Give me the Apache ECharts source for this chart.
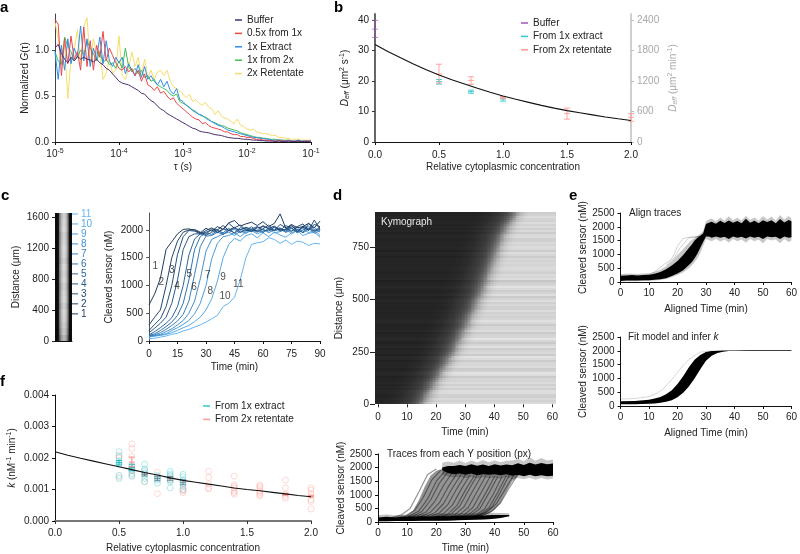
<!DOCTYPE html>
<html><head><meta charset="utf-8">
<style>html,body{margin:0;padding:0;background:#fff}#c{width:800px;height:554px}</style>
<script src="https://cdn.jsdelivr.net/npm/echarts@6/dist/echarts.min.js"></script>
</head><body><div id="c"></div>
<script>
// ---------- panel a ----------
const tauExp=[-5,-4.95,-4.9,-4.85,-4.8,-4.75,-4.7,-4.65,-4.6,-4.55,-4.5,-4.45,-4.4,-4.35,-4.3,-4.25,-4.2,-4.15,-4.1,-4.05,-4,-3.95,-3.9,-3.85,-3.8,-3.75,-3.7,-3.65,-3.6,-3.55,-3.5,-3.45,-3.4,-3.35,-3.3,-3.25,-3.2,-3.15,-3.1,-3.05,-3,-2.95,-2.9,-2.85,-2.8,-2.75,-2.7,-2.65,-2.6,-2.55,-2.5,-2.45,-2.4,-2.35,-2.3,-2.25,-2.2,-2.15,-2.1,-2.05,-2,-1.95,-1.9,-1.85,-1.8,-1.75,-1.7,-1.65,-1.6,-1.55,-1.5,-1.45,-1.4,-1.35,-1.3,-1.25,-1.2,-1.15,-1.1,-1.05,-1];
const gBuffer=[1.02,1.06,.96,.90,.86,.92,.88,.93,.90,.92,.90,.89,.87,.90,.86,.84,.80,.78,.74,.70,.66,.64,.63,.62,.60,.58,.56,.53,.52,.48,.45,.43,.39,.36,.34,.31,.29,.27,.25,.23,.21,.19,.17,.15,.14,.12,.11,.105,.10,.09,.08,.075,.07,.06,.05,.045,.04,.04,.035,.03,.03,.025,.02,.02,.015,.015,.01,.01,.01,.005,.01,.005,.005,.01,.005,.005,.01,.005,.005,.005,0];
const gHalf=[1.33,1.28,.72,1.12,.85,1.15,.90,.98,.78,1.25,.82,1.10,.78,1.05,.92,1.20,.88,1.02,.94,.86,.80,.78,.82,.76,.80,.72,.78,.66,.74,.62,.60,.56,.60,.53,.55,.50,.46,.48,.42,.39,.36,.33,.30,.27,.25,.24,.20,.21,.18,.16,.15,.14,.13,.11,.11,.09,.08,.08,.06,.06,.05,.05,.04,.03,.03,.02,.02,.02,.01,.01,.02,.01,.01,.01,.01,.005,.01,.005,.01,.01,.01];
const gExtract=[.98,.68,1.05,.78,1.12,.85,1.02,.92,1.26,.88,1.12,.82,1.02,.90,1.14,.85,1.10,.88,.82,.92,.86,.92,.74,.85,.78,.72,.84,.70,.82,.68,.72,.66,.62,.68,.60,.66,.56,.52,.58,.46,.44,.40,.38,.34,.32,.30,.29,.26,.24,.22,.20,.18,.17,.15,.13,.12,.11,.10,.09,.08,.07,.06,.05,.05,.04,.04,.03,.03,.02,.02,.02,.02,.01,.02,.01,.01,.02,.01,.01,.01,.01];
const gFrom2x=[.98,.88,.84,1.14,1.04,.98,.88,.92,1.0,.95,1.10,1.02,.96,.88,.98,.86,.90,.84,.86,.80,.88,.80,1.02,.82,.76,.80,.74,.78,.70,.72,.66,.68,.62,.60,.58,.56,.52,.50,.52,.44,.42,.40,.37,.35,.33,.30,.28,.27,.25,.22,.21,.19,.18,.17,.15,.14,.13,.12,.10,.09,.08,.07,.06,.05,.05,.04,.04,.03,.03,.03,.02,.02,.02,.02,.01,.01,.01,.01,.01,.01,.01];
const gRetentate=[1.3,1.12,.92,1.05,.47,.90,1.0,1.22,.85,1.25,1.35,.85,1.12,.95,1.0,.68,.75,.90,.75,.78,1.15,.72,.68,.80,.98,.82,.92,.72,.90,.70,.78,.68,.76,.78,.72,.78,.66,.60,.58,.55,.52,.48,.52,.44,.46,.42,.40,.43,.38,.36,.30,.34,.28,.26,.25,.22,.20,.25,.18,.17,.14,.13,.14,.11,.10,.09,.09,.08,.07,.07,.05,.05,.04,.04,.03,.03,.03,.02,.02,.02,.02];
const aNames=['Buffer','0.5x from 1x','1x Extract','1x from 2x','2x Retentate'];
const aColors=['#4a2f6f','#e8474c','#2f8fe6','#43bd55','#f6dc6e'];
// ---------- panel b ----------
const bFitX=[0,.1,.2,.3,.4,.5,.6,.7,.8,.9,1,1.1,1.2,1.3,1.4,1.5,1.6,1.7,1.8,1.9,2];
const bFitY=[32,29.7,27.6,25.6,23.7,22.0,20.4,19.0,17.6,16.3,15.1,14.0,13.0,12.0,11.1,10.3,9.6,8.9,8.2,7.6,7.05];
const bBuffer=[[0,34.3,37,39.9]];
const bExtract=[[.5,19,19.8,20.5],[.75,16,16.5,17],[1,13.4,14.1,14.8]];
const bRetentate=[[.5,19.3,22.3,25.5],[.75,18.9,20.2,21.4],[1,14.2,14.5,14.9],[1.5,7.5,9.3,11.1],[2,6.8,8.1,9.3]];
// ---------- panel c ----------
const cTime=[0,3,6,9,12,15,18,21,24,27,30,33,36,39,42,45,48,51,54,57,60,63,66,69,72,75,78,81,84,87,90];
const cTraces=[
[650,850,1130,1650,1790,1930,2010,2020,1990,1950,2030,1980,2060,2010,2130,2170,2070,2110,2140,2080,2150,2060,2120,2290,2030,2100,2040,2060,2120,2040,2160],
[290,430,560,1000,1500,1800,1960,2000,2010,1960,1920,2020,2000,2080,1990,2040,2090,2000,1980,2040,2060,2030,2070,2000,2010,2090,1970,2050,2000,2100,2060],
[190,300,400,620,1000,1560,1880,1990,1980,1930,1990,2040,1960,2010,2120,2030,2000,2050,2010,1980,2080,2020,1990,2100,2040,1970,2060,2110,1990,2180,2010],
[150,230,320,430,680,1100,1650,1880,1930,1930,1960,2000,1950,2020,1990,1950,2040,2020,1970,2060,2000,1980,2050,1990,2080,2030,1960,2070,2020,1980,2050],
[110,170,240,320,420,620,1000,1550,1840,1930,1900,1960,2010,1920,2000,2050,1960,1990,2060,1970,2020,2090,1990,2030,1980,2070,2010,1950,2120,2000,2000],
[100,130,190,260,340,460,680,1100,1650,1880,1950,1920,1990,1950,2030,1940,2010,1980,2020,2060,1960,2010,2050,1980,2010,2040,1950,2000,2070,1970,2020],
[95,110,150,210,280,360,480,720,1200,1700,1890,1900,1960,1920,1990,2010,1950,2040,1980,2000,1950,2040,1990,2010,1960,2030,2060,1950,2010,2050,1960],
[90,100,120,170,220,290,370,500,720,1120,1620,1830,1880,1930,1960,1900,1980,1940,2000,1960,2020,1950,2010,2040,1960,1990,2010,1960,2040,1940,1990],
[70,90,110,130,190,240,300,370,490,680,1000,1480,1760,1880,1900,1950,1880,1960,1990,1930,1980,2010,1950,1970,2020,1930,1990,2030,1950,2000,1900],
[80,90,100,120,150,190,240,280,350,430,560,760,1080,1500,1740,1850,1800,1900,1930,1860,1950,1880,1960,1910,1870,1950,1990,1900,1940,1960,1870],
[40,50,70,90,120,140,180,210,250,290,340,400,460,620,680,790,1100,1500,1740,1770,1790,1860,1830,1760,1820,1740,1800,1780,1720,1760,1750]];
const cColors=['#1f3b5c','#23456b','#274f7a','#2a5a8a','#2e6699','#3272a9','#3a80bb','#4390cc','#4c9dd9','#57a9e6','#66b6f2'];
const cLabelPos=[[3.3,1350],[6.5,1063],[12,1280],[14.7,990],[21.2,1200],[23.7,960],[30.9,1180],[32.3,895],[39,1150],[40,800],[47,1030]];
const stripProfile=[12,10,12,25,120,150,180,200,210,210,200,180,140,90,15,10,12];
const stripRowShift=[-30,-14,-6,0,4,-4,6,2,-4,5,0,6,-3,4,8,2,-2,6,3,-2];
const stripMarkers=[352,482,612,741,871,1000,1130,1260,1389,1519,1648];
// ---------- panel d ----------
const kymoFront=[14.5,15.5,16,17,18,18.5,19.5,20.5,21,22,23,23.5,24.5,25.5,26,26.5,27.5,28,28.5,29.5,30,30.5,31,32,32.5,33,33.5,34.5,35,35.5,36,36.5,37,37.5,38,38.5,39,39.5,40,40.5,41,41.5,42,43,43.5,44.5,45.5,46.5];
const kymoProfile=[38,38,40,42,44,48,52,56,62,70,82,100,125,155,180,195,205,210,212];
const kymoStreak=[2,-3,4,-1,5,1,-4,6,-1,3,-5,7,1,-2,4,-3,6,-1,2,-4,3,5,-3,1,-2,6,-4,2,0,4,-6,3,1,-2,7,-1,-4,3,1,5,-3,2,-5,4,-1,3,-2,1];
const kymoFine=[3,-5,8,-2,-7,4,10,-4,1,-9,6,-1,5,-6,2,9,-3,-8,4,0,7,-5,-1,6,-10,3];
const traceT0=[2,3.5,5,6,7.5,9,10.5,12,13.5,15,16,17.5,19,20.5,22,23,24.5,26,27,28.5,30];
const fanTraces=[
[130,170,260,500,1100,1750,1950],[130,180,240,420,900,1550,1900],[120,170,240,400,850,1500,1880],[120,160,220,380,800,1420,1850],
[110,170,230,370,760,1350,1820],[110,150,220,360,700,1280,1780],[100,140,210,340,680,1250,1750],[100,140,200,330,650,1220,1740],
[100,130,190,310,620,1200,1720],[90,130,180,300,600,1180,1700],[90,120,180,290,580,1160,1720],[90,120,170,280,560,1150,1700],
[80,110,170,270,540,1120,1700],[80,110,160,260,530,1100,1680],[70,100,160,270,520,1080,1680],[70,100,160,260,500,1060,1660],
[70,110,170,260,480,1020,1660],[80,120,180,290,520,1080,1700],[90,130,190,300,540,1100,1720],[100,160,240,380,660,1180,1720],[100,170,250,400,700,1250,1750]];
const fanBandT=[10,12,14,16,18,20,22,25,28,30,33,36,38,40,42,44,46,48,50];
const fanBandLo=[60,70,80,80,90,100,100,110,110,110,170,230,300,450,700,1100,1500,1700,1800];
const fanBandHi=[250,420,800,1300,1700,1880,1950,1980,1980,1980,1980,1980,1980,1980,1980,1980,1980,1980,1980];
const dLowT=[0,3,6,9,12,15,18,21,24,27,30,33,36,39,42,45];
const dLowLo=[30,30,35,40,40,45,45,50,55,60,70,80,90,110,150,210];
const dLowHi=[170,190,170,200,190,210,200,220,210,230,230,240,240,260,260,260];
const dLowHaloHi=[250,280,240,270,280,290,280,310,300,330,320,330,340,340,330,320];
const dTopT=[22,24,26,28,30,32,34,36,38,40,42,44,46,48,50,52,54,56,58,60];
const dTopLo=[1900,1800,1760,1780,1740,1780,1720,1760,1740,1760,1720,1760,1700,1740,1680,1740,1680,1720,1680,1700];
const dTopHi=[2000,2060,2060,2100,2060,2120,2070,2110,2060,2120,2080,2110,2090,2160,2100,2180,2110,2170,2120,2150];
const dTopHaloLo=[1750,1680,1640,1660,1610,1660,1600,1650,1620,1640,1600,1650,1580,1620,1570,1630,1550,1620,1560,1600];
const dTopHaloHi=[2180,2220,2180,2260,2170,2260,2190,2280,2200,2270,2200,2250,2260,2320,2230,2380,2250,2350,2260,2300];
// ---------- panel e ----------
const e1T=[0,2,4,6,8,10,12,14,16,18,20,22,24,25,26,27,28,29,30,31,32,33.5,35,36.5,38,39.5,41,42.5,44,45.5,47,48.5,50,51.5,53,54.5,56,57.5,59,60];
const e1Lo=[40,50,55,50,60,60,80,100,140,220,310,430,620,720,860,1020,1240,1450,1650,1650,1600,1650,1600,1640,1560,1650,1600,1640,1580,1650,1600,1640,1560,1650,1620,1640,1560,1650,1600,1620];
const e1Hi=[230,240,250,240,250,260,300,360,460,600,760,980,1230,1350,1500,1600,1680,1760,2100,2150,2180,2110,2220,2140,2230,2150,2210,2130,2290,2150,2220,2130,2240,2170,2240,2130,2280,2160,2250,2200];
const e1HaloLo=[20,30,30,30,35,40,55,75,110,170,250,340,500,600,720,860,1050,1300,1560,1520,1480,1560,1470,1540,1430,1560,1480,1540,1420,1560,1480,1540,1400,1560,1500,1540,1400,1560,1450,1500];
const e1HaloHi=[290,300,300,290,310,320,370,440,570,760,980,1200,1420,1520,1600,1680,1750,1850,2200,2260,2300,2200,2340,2220,2380,2240,2330,2230,2400,2250,2340,2220,2390,2260,2370,2220,2430,2260,2390,2300];
const e1GrayA=[[11,300],[13,450],[15,620],[17,750],[18,850],[19,1050],[20,1300],[22,1580],[24,1620],[26,1640],[28,1650],[30,1700]];
const e1GrayB=[[16,600],[19,900],[21,1250],[24,1600],[27,1640],[29,1700]];
const e2T=[0,5,10,12,14,16,18,20,22,24,26,28,30,32,34,36,38,40,45,50,60];
const e2Lo=[60,65,80,95,115,150,210,320,480,710,1000,1330,1640,1820,1920,1970,1990,2000,2000,2000,2000];
const e2Hi=[170,180,230,270,330,430,570,800,1080,1400,1680,1850,1960,1990,2005,2010,2015,2020,2025,2025,2025];
const e2Gray=[[0,250],[5,270],[10,340],[13,470],[15,620],[18,960],[20,1220],[22,1470],[24,1680],[26,1830],[28,1950],[32,2000]];
// ---------- panel f ----------
const fFitX=[0,.1,.2,.3,.4,.5,.6,.7,.8,.9,1,1.1,1.2,1.3,1.4,1.5,1.6,1.7,1.8,1.9,2];
const fFitY=[.0022,.00209,.00199,.0019,.00181,.00172,.00163,.00154,.00146,.00137,.00129,.00123,.00117,.00111,.00105,.00100,.00096,.00091,.00086,.00081,.00077];
const fExtract=[[.5,.00135],[.5,.00145],[.5,.0018],[.5,.00185],[.5,.0019],[.5,.00205],[.5,.0022],[.6,.00142],[.6,.0015],[.6,.0016],[.6,.00165],[.6,.0017],[.6,.00175],[.7,.00125],[.7,.00135],[.7,.00145],[.7,.0015],[.7,.0016],[.7,.00165],[.7,.0018],[.8,.0012],[.8,.0013],[.8,.00135],[.8,.0014],[.8,.00145],[.9,.00105],[.9,.00125],[.9,.0013],[.9,.00135],[.9,.00145],[.9,.0015],[.9,.00158],[1,.001],[1,.0011],[1,.0012],[1,.00125],[1,.0013],[1,.0014],[1,.00148]];
const fRetentate=[[.5,.0014],[.5,.002],[.5,.0021],[.6,.00145],[.6,.0016],[.6,.00205],[.6,.0023],[.6,.00245],[.7,.00125],[.7,.00155],[.8,.00087],[.8,.0014],[.8,.00155],[.9,.0013],[.9,.0014],[1,.0009],[1,.00095],[1,.001],[1,.00115],[1.2,.00102],[1.2,.00105],[1.2,.00118],[1.2,.00138],[1.2,.00158],[1.4,.00085],[1.4,.0009],[1.4,.00095],[1.4,.00105],[1.4,.0011],[1.4,.00115],[1.4,.00142],[1.6,.0008],[1.6,.00085],[1.6,.0009],[1.6,.00095],[1.6,.00105],[1.6,.0011],[1.6,.00115],[1.8,.00072],[1.8,.00078],[1.8,.00085],[1.8,.00105],[1.8,.0013],[2,.00038],[2,.00062],[2,.00068],[2,.00085],[2,.00098],[2,.00105]];
const fErrExtract=[[.5,.00178,.00185,.00192],[.6,.0016,.0017,.0018]];
const fErrRetentate=[[.6,.00172,.00187,.00203],[1.8,.00082,.00085,.00088],[2,.00076,.00079,.00082]];
const fErrGray=[[.7,.00143,.00148,.00153],[.8,.00128,.00135,.00142],[.9,.00129,.00135,.00141],[1,.00115,.00123,.00131]];

const FONT='Liberation Sans', TXT='#222';
const CY='#35c9cf', SA='#ff9c94', PU='#a455b5';
const chart=echarts.init(document.getElementById('c'),null,{renderer:'canvas'});
const grid=[],xAxis=[],yAxis=[],series=[];
const rich={i:{fontStyle:'italic',fontSize:10,fontFamily:FONT},n:{fontSize:10,fontFamily:FONT},
  sup:{fontSize:7,verticalAlign:'top',lineHeight:12,fontFamily:FONT},sub:{fontSize:7,verticalAlign:'bottom',lineHeight:12,fontStyle:'italic',fontFamily:FONT}};
function addGrid(l,t,w,h){grid.push({left:l,top:t,width:w,height:h,containLabel:false});return grid.length-1;}
function ax(g,o){
  const c=o.color||TXT;
  const a={gridIndex:g,type:o.type||'value',min:o.min,max:o.max,position:o.position,
    name:o.name||'',nameLocation:'middle',nameGap:o.nameGap,nameRotate:o.nameRotate,
    nameTextStyle:{fontFamily:FONT,fontSize:10,color:o.color||TXT,rich:JSON.parse(JSON.stringify(rich))},
    axisLine:{show:o.line!==false,onZero:false,lineStyle:{color:o.lineColor||c,width:o.lineWidth||1}},
    axisTick:{show:o.tick!==false,length:o.tickLen||3,lineStyle:{color:o.tickColor||o.lineColor||c,width:1}},
    axisLabel:{show:o.label!==false,fontFamily:FONT,fontSize:10,color:o.labelColor||c,margin:o.margin||6,formatter:o.fmt||(v=>String(v)),hideOverlap:false,showMinLabel:true,showMaxLabel:true},
    splitLine:{show:false},minorTick:{show:false},boundaryGap:false,scale:false};
  if(o.ticks){a.axisTick.customValues=o.ticks;a.axisLabel.customValues=o.ticks;}
  return a;
}
function addAxes(g,xo,yo,y2){xAxis.push(ax(g,xo));const xi=xAxis.length-1;yAxis.push(ax(g,yo));const yi=yAxis.length-1;let y2i;
  if(y2){yAxis.push(ax(g,y2));y2i=yAxis.length-1;}return {x:xi,y:yi,y2:y2i};}
function line(a,name,data,color,width,opacity,z){series.push({type:'line',name,xAxisIndex:a.x,yAxisIndex:a.y,data,showSymbol:false,symbol:'none',silent:true,animation:false,
  lineStyle:{color,width:width||1,opacity:opacity==null?1:opacity},itemStyle:{color},z:z||2});}
function zip(x,y){return x.map((v,i)=>[v,y[i]]);}
function band(a,t,lo,hi,color,opacity,z){
  series.push({type:'custom',name:'band',xAxisIndex:a.x,yAxisIndex:a.y,data:t.map((v,i)=>[v,lo[i],hi[i]]),silent:true,animation:false,clip:true,z:z||2,encode:{x:0,y:[1,2]},
   renderItem(p,api){if(p.dataIndex!==0)return null;
     const pts=t.map((v,i)=>api.coord([v,hi[i]])).concat(t.map((v,i)=>api.coord([v,lo[i]])).reverse());
     return {type:'polygon',shape:{points:pts},style:{fill:color,opacity}};}});
}
function errBars(a,name,data,color,op,cap){series.push({type:'custom',name,xAxisIndex:a.x,yAxisIndex:a.y,data,silent:true,animation:false,clip:false,itemStyle:{color},z:3,encode:{x:0,y:[1,2,3]},
  renderItem(p,api){const x=api.value(0),cv=[api.value(1),api.value(2),api.value(3)].map(v=>api.coord([x,v]));const c=cap||3,s={stroke:color,lineWidth:1,opacity:op||.75};
    const e=[{type:'line',shape:{x1:cv[0][0],y1:cv[0][1],x2:cv[0][0],y2:cv[2][1]},style:s}];
    cv.forEach(q=>e.push({type:'line',shape:{x1:q[0]-c,y1:q[1],x2:q[0]+c,y2:q[1]},style:s}));
    return {type:'group',children:e};}});}
const n1=v=>v.toFixed(1);

// a
{const g=addGrid(55,14,256,128);
 const A=addAxes(g,{type:'log',min:1e-5,max:1e-1,name:'τ (s)',nameGap:20,margin:6,
    fmt:v=>'{b|10}{s|'+Math.round(Math.log10(v))+'}',lineColor:'#111'},
   {min:0,max:1.39,ticks:[0,.5,1],fmt:n1,name:'{n|Normalized }{i|G}{n|(τ)}',nameGap:25,lineColor:'#444'});
 xAxis[A.x].logBase=10;
 xAxis[A.x].axisLabel.rich={b:{fontSize:10,fontFamily:FONT,color:TXT},s:{fontSize:7,verticalAlign:'top',lineHeight:12,fontFamily:FONT,color:TXT}};
 const arrs=[gBuffer,gHalf,gExtract,gFrom2x,gRetentate];
 [4,3,2,1,0].forEach(i=>line(A,aNames[i],tauExp.map((e,j)=>[Math.pow(10,e),arrs[i][j]]),aColors[i],1,1,i==0?6:2+(4-i)));
}
// b
{const g=addGrid(375,14,256,128);
 const A=addAxes(g,{min:0,max:2,ticks:[0,.5,1,1.5,2],fmt:n1,name:'Relative cytoplasmic concentration',nameGap:20,lineColor:'#111',margin:8},
   {min:0,max:41.97,ticks:[0,10,20,30,40],name:'{i|D}{sub|eff}{n| (μm}{sup|2}{n| s}{sup|-1}{n|)}',nameGap:24,lineColor:'#666',lineWidth:2,tickColor:'#333',labelColor:TXT},
   {min:0,max:2518,ticks:[0,600,1200,1800,2400],position:'right',name:'{i|D}{sub|eff}{n| (μm}{sup|2}{n| min}{sup|-1}{n|)}',nameGap:36,nameRotate:90,lineColor:'#cfcfcf',lineWidth:2,color:'#a8a8a8',tickColor:'#bbb'});
 line(A,'fit',zip(bFitX,bFitY),'#111',1.1,1,5);
 errBars(A,'Buffer',bBuffer,PU,.7);errBars(A,'From 1x extract',bExtract,CY,.9);errBars(A,'From 2x retentate',bRetentate,SA,.9);
}
// c strip
{const g=addGrid(55,213,17,128);
 const A=addAxes(g,{min:0,max:17,label:false,tick:false,lineColor:'#111'},
   {min:0,max:1661,ticks:[0,400,800,1200,1600],name:'Distance (μm)',nameGap:34,line:false,tickLen:3},
   {min:0,max:1661,position:'right',ticks:stripMarkers,tick:false,line:false,margin:9,fmt:v=>String(stripMarkers.indexOf(v)+1)});
 yAxis[A.y2].axisLabel.color=v=>cColors[stripMarkers.indexOf(Number(v))]||TXT;
 const cells=[];stripProfile.forEach((v,i)=>stripRowShift.forEach((s,r)=>cells.push([i,r*83.05,Math.max(5,Math.min(235,v+(v>60?s:0)))])));
 series.push({type:'custom',name:'strip',xAxisIndex:A.x,yAxisIndex:A.y,data:cells,silent:true,animation:false,encode:{x:0,y:1},
  renderItem(p,api){const a=api.coord([api.value(0),api.value(1)]),b=api.coord([api.value(0)+1,api.value(1)+83.05]);const v=Math.round(api.value(2));
   return {type:'rect',shape:{x:Math.round(a[0]),y:Math.round(b[1]),width:Math.round(b[0])-Math.round(a[0]),height:Math.round(a[1])-Math.round(b[1])},style:{fill:'rgb('+v+','+v+','+v+')'}};}});
 series.push({type:'custom',name:'markers',xAxisIndex:A.x,yAxisIndex:A.y,data:stripMarkers.map((m,i)=>[17,m,i]),silent:true,animation:false,clip:false,encode:{x:0,y:1},z:4,
  renderItem(p,api){const a=api.coord([api.value(0),api.value(1)]);return {type:'line',shape:{x1:a[0],y1:a[1],x2:a[0]+6,y2:a[1]},style:{stroke:cColors[api.value(2)],lineWidth:1}};}});
}
// c traces
{const g=addGrid(149,213,171,128);
 const A=addAxes(g,{min:0,max:90,ticks:[0,15,30,45,60,75,90],name:'Time (min)',nameGap:21,lineColor:'#111',margin:8},
   {min:0,max:2306,ticks:[0,500,1000,1500,2000],name:'Cleaved sensor (nM)',nameGap:35,lineColor:'#555'});
 [10,9,8,7,6,5,4,3,2,1,0].forEach(i=>line(A,'trace'+(i+1),zip(cTime,cTraces[i]),cColors[i],1,1,2+(10-i)/10));
 series.push({type:'scatter',xAxisIndex:A.x,yAxisIndex:A.y,symbolSize:0,silent:true,animation:false,z:6,data:cLabelPos.map((p,i)=>({value:p,label:{show:true,position:'inside',formatter:String(i+1),fontFamily:FONT,fontSize:10,color:TXT}}))});
}
// d kymograph
{const g=addGrid(375,212,180,192.3);
 const A=addAxes(g,{min:-1,max:60.9,ticks:[0,10,20,30,40,50,60],line:false,name:'Time (min)',nameGap:23,tickLen:3,margin:8},
   {min:0,max:917,ticks:[0,250,500,750],line:false,name:'Distance (μm)',nameGap:31,tickLen:5});
 const cells=[];
 for(let r=0;r<96;r++){
  const i0=Math.floor(r/2),f=(r%2)?(kymoFront[i0]+kymoFront[Math.min(47,i0+1)])/2:kymoFront[i0];
  for(let c=0;c<124;c++){const t=c/2-1,pos=t-f+12,k=Math.floor(pos),w=pos-k;
   const pick=j=>j<0?36:(j>=kymoProfile.length?212:kymoProfile[j]);
   const base=pick(k)*(1-w)+pick(k+1)*w;
   const s=(kymoStreak[i0]+kymoFine[r%26])*(base>150?1:.3);
   cells.push([t,r*9.55,Math.max(15,Math.min(240,base+s))]);}
 }
 series.push({type:'custom',name:'Kymograph',xAxisIndex:A.x,yAxisIndex:A.y,data:cells,silent:true,animation:false,progressive:0,encode:{x:0,y:1},
  renderItem(p,api){const a=api.coord([api.value(0),api.value(1)]),b=api.coord([api.value(0)+.5,api.value(1)+9.55]);const v=Math.round(api.value(2));
   return {type:'rect',shape:{x:Math.round(a[0]),y:Math.round(b[1]),width:Math.round(b[0])-Math.round(a[0])+1,height:Math.round(a[1])-Math.round(b[1])},style:{fill:'rgb('+v+','+v+','+v+')'}};}});
}
function sensorY(){return {min:0,max:2500,ticks:[0,500,1000,1500,2000,2500],name:'Cleaved sensor (nM)',nameGap:32,lineColor:'#111',tickLen:3};}
function sensorX(name,gap){return {min:0,max:60,ticks:[0,10,20,30,40,50,60],name,nameGap:gap,lineColor:'#111'};}
// d lower
{const g=addGrid(378,454,175,69);
 const A=addAxes(g,sensorX('Time (min)',21),sensorY());
 band(A,fanBandT,fanBandLo,fanBandHi,'#000',.42,2);
 fanTraces.forEach((tr,i)=>{line(A,'fan'+i,tr.map((v,j)=>[traceT0[i]+j*3,v]),'#000',1.2,.42,3);});
 band(A,dTopT,dTopHaloLo,dTopHaloHi,'#000',.22,4);
 band(A,dLowT,dLowLo,dLowHaloHi,'#000',.25,4);
 band(A,dLowT,dLowLo,dLowHi,'#000',1,5);
 band(A,dTopT,dTopLo,dTopHi,'#000',1,5);
}
// e top
{const g=addGrid(620.5,213,174.5,69);
 const A=addAxes(g,sensorX('Aligned Time (min)',22),sensorY());
 band(A,e1T,e1HaloLo,e1HaloHi,'#000',.22,3);
 band(A,e1T,e1Lo,e1Hi,'#000',1,4);
 line(A,'ga',e1GrayA,'#000',1,.18,2);line(A,'gb',e1GrayB,'#000',1,.18,2);
}
// e bottom
{const g=addGrid(620.5,337,174.5,69);
 const A=addAxes(g,sensorX('Aligned Time (min)',22),sensorY());
 band(A,e2T,e2Lo,e2Hi,'#000',1,4);
 line(A,'g',e2Gray,'#000',1,.16,2);
}
// f
{const g=addGrid(55,395,256,128);
 const A=addAxes(g,{min:0,max:2,ticks:[0,.5,1,1.5,2],fmt:n1,name:'Relative cytoplasmic concentration',nameGap:22,lineColor:'#777',lineWidth:2,tickColor:'#333',labelColor:TXT,margin:7},
   {min:0,max:.004,ticks:[0,.001,.002,.003,.004],fmt:v=>v.toFixed(3),name:'{i|k}{n| (nM}{sup|-1}{n| min}{sup|-1}{n|)}',nameGap:37,lineColor:'#111'});
 const sc=(nm,d,c)=>series.push({type:'scatter',name:nm,xAxisIndex:A.x,yAxisIndex:A.y,data:d,symbol:'circle',symbolSize:6,silent:true,animation:false,z:2,itemStyle:{color:'rgba(0,0,0,0)',borderColor:c,borderWidth:1,opacity:.38}});
 sc('From 2x retentate',fRetentate,SA);sc('From 1x extract',fExtract,CY);
 line(A,'fit',zip(fFitX,fFitY),'#111',1.1,1,5);
 errBars(A,'errE',fErrExtract,'#1fb7bd',.95);errBars(A,'errR',fErrRetentate,'#f58a80',.95);errBars(A,'errG',fErrGray,'#556',.6);
}

const legendBase={orient:'vertical',icon:'rect',itemWidth:7,itemHeight:1.5,itemGap:1.4,padding:0,align:'left',selectedMode:false,textStyle:{fontFamily:FONT,fontSize:10,color:TXT,lineHeight:12}};
const legend=[
 Object.assign({},legendBase,{left:235,top:14,data:aNames.map((n,i)=>({name:n,itemStyle:{color:aColors[i]}}))}),
 Object.assign({},legendBase,{left:521,top:17,data:[{name:'Buffer',itemStyle:{color:PU}},{name:'From 1x extract',itemStyle:{color:CY}},{name:'From 2x retentate',itemStyle:{color:SA}}]}),
 Object.assign({},legendBase,{left:203,top:400,data:[{name:'From 1x extract',itemStyle:{color:CY}},{name:'From 2x retentate',itemStyle:{color:SA}}]})
];
const letter=(t,x,y)=>({type:'text',left:x,top:y,z:50,style:{text:t,font:'bold 15px "'+FONT+'"',fill:'#000'}});
const note=(t,x,y,fill)=>({type:'text',left:x,top:y,z:50,style:{text:t,font:'10px "'+FONT+'"',fill:fill||TXT}});
const graphic=[letter('a',0,0),letter('b',334,0),letter('c',1,188),letter('d',333,188),letter('e',569,188),letter('f',0,374),
 note('Kymograph',381,217,'#e8e8e8'),note('Traces from each Y position (px)',387,449),note('Align traces',629,208),
 {type:'text',left:628,top:332,z:50,style:{text:'{n|Fit model and infer }{i|k}',rich:{n:{font:'10px "'+FONT+'"',fill:TXT},i:{font:'italic 10px "'+FONT+'"',fill:TXT}}}}];

chart.setOption({animation:false,backgroundColor:'#fff',textStyle:{fontFamily:FONT},tooltip:{show:false},grid,xAxis,yAxis,series,legend,graphic});
</script></body></html>
